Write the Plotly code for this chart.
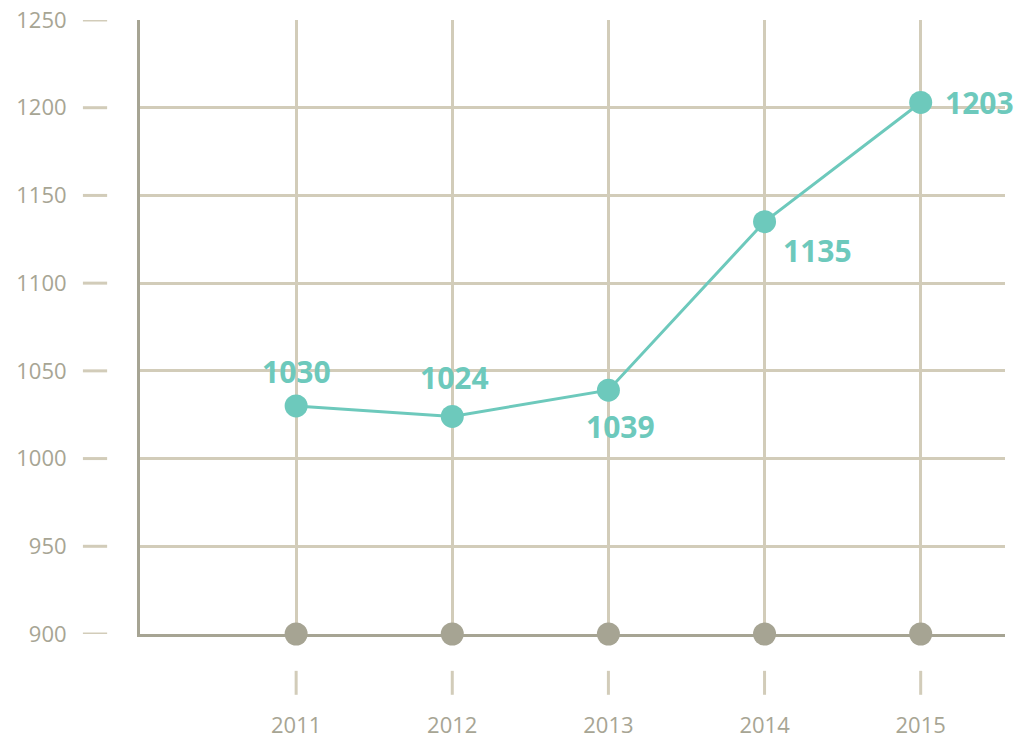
import plotly.graph_objects as go

# Annual values
years = [2011, 2012, 2013, 2014, 2015]
values = [1030, 1024, 1039, 1135, 1203]
y_ticks = [900, 950, 1000, 1050, 1100, 1150, 1200, 1250]
y_grid = [950, 1000, 1050, 1100, 1150, 1200]

TEAL = "#6DC9BC"
AXIS = "#A6A493"
GRID = "#D2CCB9"
LABEL = "#A7A594"
FONT = "Open Sans"

fig = go.Figure()

# Baseline dots on the x axis
fig.add_trace(go.Scatter(
    x=years, y=[y_ticks[0]] * len(years), mode="markers",
    marker=dict(size=23, color=AXIS), cliponaxis=False,
    hoverinfo="skip", showlegend=False))

# Main series
fig.add_trace(go.Scatter(
    x=years, y=values, mode="lines+markers",
    line=dict(color=TEAL, width=3),
    marker=dict(size=23, color=TEAL), cliponaxis=False,
    showlegend=False))

# Value labels: (xanchor, yanchor, xshift, yshift)
label_pos = [
    ("center", "bottom", 0, 12),
    ("center", "bottom", 2, 16),
    ("center", "top", 12, -14),
    ("left", "top", 16, -6),
    ("left", "middle", 22, 0),
]
for yr, v, (xa, ya, xs, ys) in zip(years, values, label_pos):
    fig.add_annotation(
        x=yr, y=v, text=f"<b>{v}</b>", showarrow=False,
        xanchor=xa, yanchor=ya, xshift=xs, yshift=ys,
        font=dict(family=FONT, size=30, color=TEAL))

# Short dashes beside the y labels
for t in y_ticks:
    fig.add_shape(type="line", xref="paper", yref="y",
                  x0=-0.066, x1=-0.038, y0=t, y1=t,
                  line=dict(color=GRID, width=3))

# Short vertical marks above the year labels
for yr in years:
    fig.add_shape(type="line", xref="x", yref="paper",
                  x0=yr, x1=yr, y0=-0.060, y1=-0.099,
                  line=dict(color=GRID, width=3))

fig.update_xaxes(
    range=[2010.0, 2015.54], tickvals=years,
    showgrid=True, gridcolor=GRID, gridwidth=3,
    showline=True, linecolor=AXIS, linewidth=3,
    ticks="", ticklabelstandoff=70, automargin=False,
    tickfont=dict(family=FONT, size=22, color=LABEL),
    zeroline=False)

fig.update_yaxes(
    range=[900, 1250], tickvals=y_ticks,
    showgrid=False,
    minor=dict(tickvals=y_grid, showgrid=True, gridcolor=GRID, gridwidth=3, ticks=""),
    showline=True, linecolor=AXIS, linewidth=3,
    ticks="", ticklabelstandoff=66, automargin=False,
    tickfont=dict(family=FONT, size=22, color=LABEL),
    zeroline=False)

fig.update_layout(
    width=1021, height=739,
    margin=dict(l=140, r=16, t=20, b=105),
    paper_bgcolor="white", plot_bgcolor="white",
    font=dict(family=FONT),
)

fig.write_html("out.html")
